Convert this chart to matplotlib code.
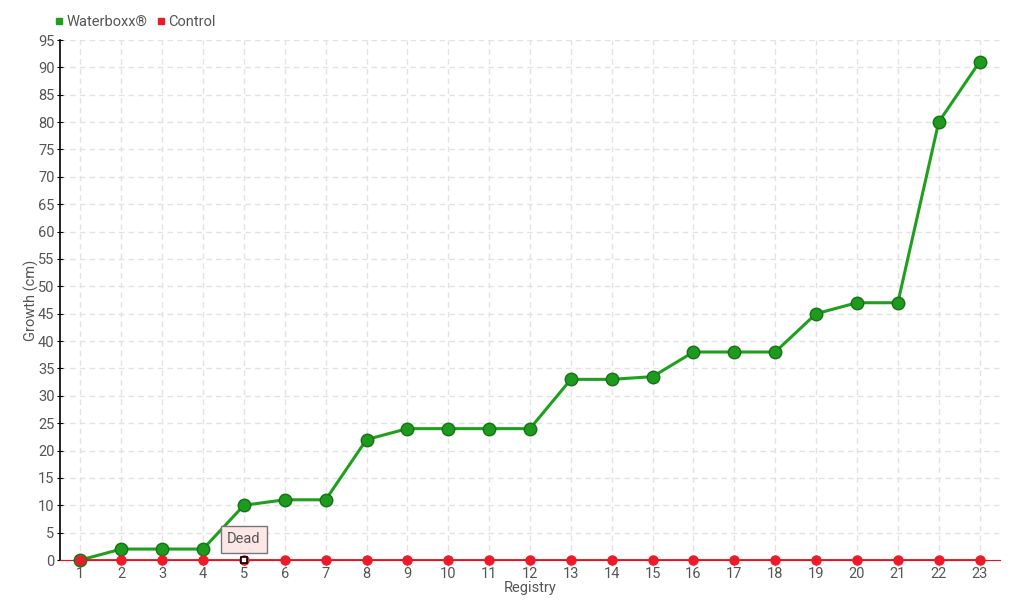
import matplotlib
matplotlib.use("Agg")
import matplotlib.pyplot as plt
from matplotlib.lines import Line2D

registry = list(range(1, 24))
waterboxx = [0, 2, 2, 2, 10, 11, 11, 22, 24, 24, 24, 24, 33, 33, 33.5, 38, 38, 38, 45, 47, 47, 80, 91]
control = [0] * 23
y_ticks = list(range(0, 96, 5))

plt.rcParams['font.family'] = ['Roboto', 'DejaVu Sans']
txt = '#555555'

fig = plt.figure(figsize=(10.2, 6.0), dpi=100)
ax = fig.add_axes([60/1020, 40/600, 940/1020, 520/600])

green = '#1ea01e'
ax.plot(registry, waterboxx, color=green, lw=2.2, marker='o', ms=9,
        markerfacecolor='#1e9a1e', markeredgecolor='#147214', markeredgewidth=1, zorder=3,
        clip_on=False)
ax.plot(registry, control, color='#e8101e', lw=1.3, marker='o', ms=6.5,
        markerfacecolor='#ee1a2a', markeredgecolor='#ee1a2a', zorder=4, clip_on=False)
ax.plot([5], [0], marker='s', ms=5, markerfacecolor='white', markeredgecolor='black',
        markeredgewidth=1.2, zorder=5, ls='none', clip_on=False)

ax.set_xlim(0.5, 23.5)
ax.set_ylim(0, 95)
ax.set_xticks(registry)
ax.set_yticks(y_ticks)
ax.grid(True, color='#e2e2e2', ls=(0, (4, 3)), lw=1)
ax.set_axisbelow(True)
for s in ['top', 'right']:
    ax.spines[s].set_visible(False)
ax.spines['left'].set_color('black')
ax.spines['left'].set_linewidth(1.2)
ax.spines['bottom'].set_color('#e8101e')
ax.tick_params(axis='y', colors=txt, labelsize=10.5, length=4, direction='inout', color='black', pad=2)
ax.tick_params(axis='x', colors=txt, labelsize=10.5, length=4, direction='out', color='#aaaaaa', pad=1)
ax.set_xlabel('Registry', color=txt, fontsize=10.5, labelpad=0)
ax.set_ylabel('Growth (cm)', color=txt, fontsize=10.5, labelpad=-1)

ax.annotate('Dead', xy=(5, 0), xytext=(0, 15), textcoords='offset points',
            ha='center', va='center', fontsize=10.5, color=txt,
            bbox=dict(boxstyle='square,pad=0.45', fc='#fde6e6', ec='#777777', lw=1),
            zorder=6)

handles = [Line2D([], [], marker='s', ls='none', color='#1ea01e', ms=5),
           Line2D([], [], marker='s', ls='none', color='#ee1a2a', ms=5)]
fig.legend(handles, ['Waterboxx®', 'Control'], loc='upper left', bbox_to_anchor=(42/1020, 1 - 2/600),
           ncol=2, frameon=False, fontsize=10.5, handlelength=0.6, handletextpad=0.2,
           columnspacing=0.6, labelcolor=txt)

fig.savefig('out.png', dpi=100)
